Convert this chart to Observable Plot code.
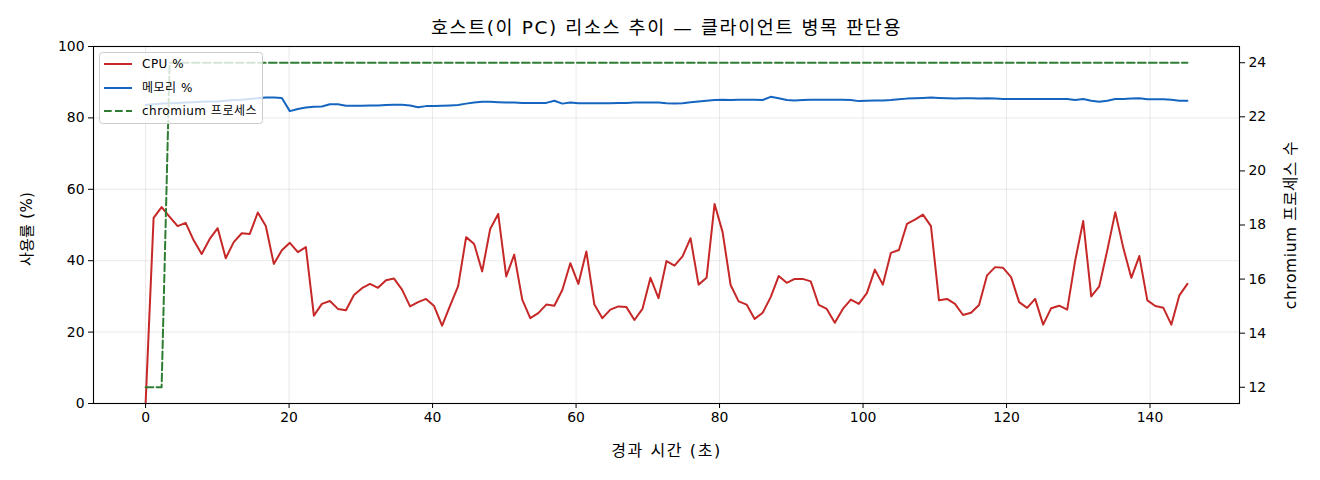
<!DOCTYPE html>
<html><head><meta charset="utf-8">
<script src="https://cdn.jsdelivr.net/npm/d3@7"></script>
<script src="https://cdn.jsdelivr.net/npm/@observablehq/plot@0.6"></script>
<style>
body{margin:0;background:#fff;}
#wrap{position:relative;width:1320px;height:480px;font-family:"DejaVu Sans","Noto Sans CJK KR",sans-serif;}
#legend{position:absolute;left:0;top:0;pointer-events:none;}
</style>
</head><body><div id="wrap"></div>
<script>
const titleText = "호스트(이 PC) 리소스 추이 — 클라이언트 병목 판단용";
const xLabel = "경과 시간 (초)";
const yLeftLabel = "사용률 (%)";
const yRightLabel = "chromium 프로세스 수";
const seriesNames = ["CPU %", "메모리 %", "chromium 프로세스"];
const seriesColors = ["#c62828", "#1565c0", "#2e7d32"];
const SAMPLE_INTERVAL_S = 1.117;
const xTicks = [0, 20, 40, 60, 80, 100, 120, 140];
const yLeftTicks = [0, 20, 40, 60, 80, 100];
const yRightTicks = [12, 14, 16, 18, 20, 22, 24];
const yRightDomain = [11.4, 24.6];

const cpu = [0,52.0,55.0,52.3,49.7,50.6,45.7,41.9,46.1,49.1,40.7,45.2,47.7,47.5,53.5,49.7,39.1,42.9,45.0,42.4,
43.8,24.6,27.9,28.7,26.5,26.1,30.4,32.3,33.5,32.4,34.5,35.0,31.9,27.2,28.4,29.3,27.3,21.8,27.4,32.9,
46.6,44.7,37.0,48.9,53.1,35.6,41.7,29.1,23.9,25.3,27.7,27.4,31.8,39.3,33.5,42.6,27.7,23.9,26.3,27.2,
27.0,23.4,26.5,35.2,29.5,39.9,38.6,41.2,46.3,33.3,35.2,55.9,48.0,33.2,28.6,27.7,23.7,25.4,29.8,35.7,
33.8,34.9,34.9,34.2,27.6,26.5,22.6,26.5,29.1,27.9,30.9,37.5,33.3,42.2,43.0,50.3,51.5,52.9,49.7,28.9,
29.3,27.9,24.8,25.4,27.6,35.9,38.2,38.0,35.4,28.4,26.8,29.3,22.1,26.7,27.4,26.3,40.1,51.1,30.0,32.8,
42.9,53.6,43.6,35.2,41.3,28.9,27.3,26.8,22.1,30.3,33.5];

const mem = [83.6,83.8,84.0,84.1,84.2,84.3,84.4,84.5,84.6,84.6,84.8,85.0,85.1,85.3,85.5,85.7,85.7,85.6,81.9,82.5,
82.9,83.1,83.2,83.8,83.8,83.4,83.4,83.4,83.5,83.5,83.6,83.7,83.7,83.5,83.0,83.3,83.3,83.4,83.5,83.6,
84.0,84.3,84.5,84.5,84.4,84.3,84.3,84.2,84.2,84.2,84.2,84.8,84.0,84.3,84.1,84.1,84.1,84.1,84.1,84.2,
84.2,84.3,84.3,84.3,84.3,84.1,84.0,84.1,84.4,84.6,84.8,85.0,85.1,85.0,85.1,85.1,85.1,85.0,85.9,85.5,
85.0,84.9,85.0,85.1,85.1,85.1,85.1,85.1,85.0,84.7,84.8,84.9,84.9,85.0,85.2,85.4,85.5,85.6,85.7,85.6,
85.5,85.4,85.5,85.5,85.4,85.5,85.4,85.3,85.3,85.3,85.3,85.3,85.3,85.3,85.3,85.3,85.0,85.3,84.8,84.5,
84.8,85.3,85.3,85.4,85.5,85.2,85.2,85.2,85.1,84.8,84.8];

const chromium = [12,12,12,24,24,24,24,24,24,24,24,24,24,24,24,24,24,24,24,24,
24,24,24,24,24,24,24,24,24,24,24,24,24,24,24,24,24,24,24,24,
24,24,24,24,24,24,24,24,24,24,24,24,24,24,24,24,24,24,24,24,
24,24,24,24,24,24,24,24,24,24,24,24,24,24,24,24,24,24,24,24,
24,24,24,24,24,24,24,24,24,24,24,24,24,24,24,24,24,24,24,24,
24,24,24,24,24,24,24,24,24,24,24,24,24,24,24,24,24,24,24,24,
24,24,24,24,24,24,24,24,24,24,24];

const rows = cpu.map((c, i) => ({t: i * SAMPLE_INTERVAL_S, cpu: c, mem: mem[i], chrome: chromium[i]}));
const toLeft = v => (v - yRightDomain[0]) / (yRightDomain[1] - yRightDomain[0]) * 100;
const fromLeft = v => v / 100 * (yRightDomain[1] - yRightDomain[0]) + yRightDomain[0];
const tMax = d3.max(rows, d => d.t);
const pad = tMax * 0.05;
const font = '"DejaVu Sans","Noto Sans CJK KR",sans-serif';
const gridStyle = {stroke: "#b0b0b0", strokeOpacity: 0.35, strokeWidth: 0.8};

const chart = Plot.plot({
  width: 1320, height: 480,
  marginLeft: 93, marginRight: 81, marginTop: 46, marginBottom: 77,
  style: {fontFamily: font, fontSize: "13.9px", background: "white", color: "#000"},
  x: {domain: [-pad, tMax + pad]},
  y: {domain: [0, 100]},
  marks: [
    Plot.gridX(xTicks, gridStyle),
    Plot.gridY(yLeftTicks, gridStyle),
    Plot.line(rows, {x: "t", y: "cpu", stroke: seriesColors[0], strokeWidth: 2}),
    Plot.line(rows, {x: "t", y: "mem", stroke: seriesColors[1], strokeWidth: 2}),
    Plot.line(rows, {x: "t", y: d => toLeft(d.chrome), stroke: seriesColors[2], strokeWidth: 2, strokeDasharray: "7.7,3.3"}),
    Plot.frame({stroke: "#000", strokeWidth: 1.1}),
    Plot.axisX(xTicks, {tickSize: 5, tickPadding: 4, label: null, fontSize: 13.9}),
    Plot.axisY(yLeftTicks, {anchor: "left", tickSize: 5, tickPadding: 4, label: null, fontSize: 13.9}),
    Plot.axisY(yRightTicks.map(toLeft), {anchor: "right", tickSize: 5, tickPadding: 4, label: null, fontSize: 13.9, tickFormat: d => String(Math.round(fromLeft(d)))}),
    Plot.text([titleText], {text: d => d, frameAnchor: "top", lineAnchor: "middle", textAnchor: "middle", dy: -18, fontSize: 18.5}),
    Plot.text([xLabel], {text: d => d, frameAnchor: "bottom", lineAnchor: "middle", textAnchor: "middle", dy: 47, fontSize: 16}),
    Plot.text([yLeftLabel], {text: d => d, frameAnchor: "left", lineAnchor: "middle", textAnchor: "middle", dx: -66, dy: 4, rotate: -90, fontSize: 15}),
    Plot.text([yRightLabel], {text: d => d, frameAnchor: "right", lineAnchor: "middle", textAnchor: "middle", dx: 52, rotate: -90, fontSize: 15.5})
  ]
});
const wrap = document.getElementById("wrap");
wrap.appendChild(chart);

// widen the Korean labels slightly to match the reference font's wide glyph advance
const spacing = new Map([[titleText, "1.6px"], [xLabel, "1.6px"], [yRightLabel, "0.6px"], [yLeftLabel, "0.3px"]]);
d3.select(chart).selectAll("text").each(function() {
  const s = spacing.get(this.textContent);
  if (s) this.style.letterSpacing = s;
});

// legend overlay
const lg = d3.select(wrap).append("svg").attr("id", "legend").attr("width", 1320).attr("height", 480);
lg.append("rect").attr("x", 99.5).attr("y", 52.5).attr("width", 163).attr("height", 71).attr("rx", 3)
  .attr("fill", "white").attr("fill-opacity", 0.8).attr("stroke", "#cccccc");
const rowY = [64, 88, 111];
seriesNames.forEach((name, i) => {
  lg.append("line").attr("x1", 104).attr("x2", 132).attr("y1", rowY[i]).attr("y2", rowY[i])
    .attr("stroke", seriesColors[i]).attr("stroke-width", 2)
    .attr("stroke-dasharray", i === 2 ? "7.7,3.3" : null);
  lg.append("text").attr("x", 142).attr("y", rowY[i]).attr("dy", "0.35em")
    .attr("font-family", font).attr("font-size", 12).style("letter-spacing", "0.5px").text(name);
});
</script>
</body></html>
